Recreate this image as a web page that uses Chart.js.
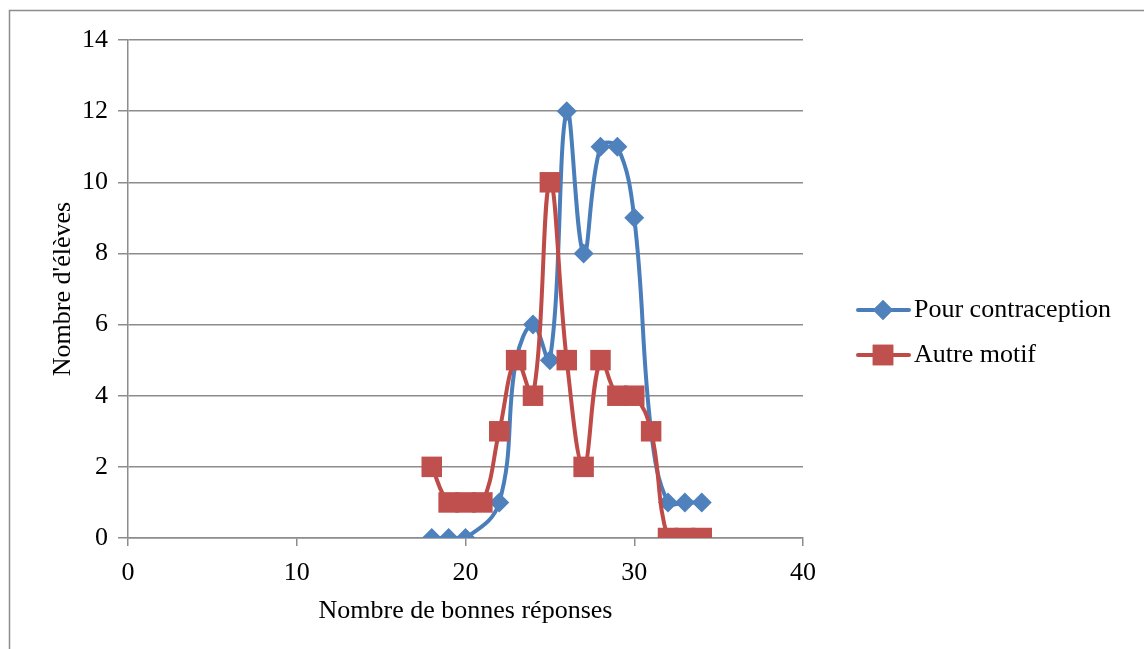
<!DOCTYPE html>
<html>
<head>
<meta charset="utf-8">
<script src="https://cdn.jsdelivr.net/npm/chart.js@4/dist/chart.umd.min.js"></script>
<style>
  html, body { margin: 0; padding: 0; background: #fff; }
  #wrap { position: relative; width: 1144px; height: 649px; }
</style>
</head>
<body>
<div id="wrap"><canvas id="lineChart" width="1144" height="649"></canvas></div>
<script>
// data
var pourX = [18, 19, 20, 22, 23, 24, 25, 26, 27, 28, 29, 30, 31, 32, 33, 34];
var pourY = [0, 0, 0, 1, 5, 6, 5, 12, 8, 11, 11, 9, 3, 1, 1, 1];
var autreX = [18, 19, 20, 21, 22, 23, 24, 25, 26, 27, 28, 29, 30, 31, 32, 33, 34];
var autreY = [2, 1, 1, 1, 3, 5, 4, 10, 5, 2, 5, 4, 4, 3, 0, 0, 0];
var seriesNames = ['Pour contraception', 'Autre motif'];

var blue = '#4a7ebb', blueMark = '#4f81bd';
var red = '#be4b48', redMark = '#c0504d';
var gridCol = '#8c8c8c';
var font = 'Liberation Serif';
var fsize = 26;

function toPoints(xs, ys) {
  return xs.map(function (x, i) { return { x: x, y: ys[i] } })
}

// frame + legend drawn by hand (Excel style)
var extras = {
  id: 'extras',
  afterDraw: function (chart) {
    var ctx = chart.ctx
    ctx.save()
    ctx.strokeStyle = '#8c8c8c'
    ctx.lineWidth = 1.5
    ctx.strokeRect(9.5, 10.5, 1140, 650)

    var items = [
      { name: seriesNames[0], line: blue, mark: blueMark, style: 'rectRot', r: 10, y: 310 },
      { name: seriesNames[1], line: red, mark: redMark, style: 'rect', r: 14.5, y: 355 }
    ]
    items.forEach(function (it) {
      ctx.strokeStyle = it.line
      ctx.lineWidth = 4
      ctx.lineCap = 'round'
      ctx.beginPath()
      ctx.moveTo(858, it.y)
      ctx.lineTo(909, it.y)
      ctx.stroke()
      ctx.fillStyle = it.mark
      Chart.helpers.drawPoint(ctx, { pointStyle: it.style, radius: it.r, borderWidth: 0 }, 883, it.y)
      ctx.fill()
      ctx.fillStyle = '#000'
      ctx.font = fsize + 'px "' + font + '"'
      ctx.textBaseline = 'middle'
      ctx.textAlign = 'left'
      ctx.fillText(it.name, 914, it.y)
    })
    ctx.restore()
  }
}

var ctx = document.getElementById('lineChart').getContext('2d')
new Chart(ctx, {
  type: 'scatter',
  data: {
    datasets: [
      {
        label: seriesNames[0],
        data: toPoints(pourX, pourY),
        showLine: true,
        tension: 0.4,
        borderColor: blue,
        borderWidth: 4,
        backgroundColor: blueMark,
        pointStyle: 'rectRot',
        pointRadius: 10,
        pointBorderWidth: 0,
        order: 2
      },
      {
        label: seriesNames[1],
        data: toPoints(autreX, autreY),
        showLine: true,
        tension: 0.4,
        borderColor: red,
        borderWidth: 4,
        backgroundColor: redMark,
        pointStyle: 'rect',
        pointRadius: 14.5,
        pointBorderWidth: 0,
        order: 1
      }
    ]
  },
  options: {
    responsive: false,
    animation: false,
    layout: { padding: { left: 0, right: 341, top: 40, bottom: 0 } },
    plugins: { legend: { display: false }, tooltip: { enabled: false } },
    scales: {
      x: {
        type: 'linear',
        min: 0, max: 40,
        ticks: { stepSize: 10, color: '#000', font: { family: font, size: fsize }, padding: 12 },
        grid: { drawOnChartArea: false, drawTicks: true, tickLength: 8, color: gridCol, lineWidth: 1.5 },
        border: { color: gridCol, width: 1.5 },
        title: { display: true, text: 'Nombre de bonnes réponses', color: '#000', font: { family: font, size: fsize }, padding: { top: 4, bottom: 22 } },
        afterFit: function (s) { s.height = 111 }
      },
      y: {
        min: 0, max: 14,
        ticks: { stepSize: 2, color: '#000', font: { family: font, size: fsize }, padding: 10 },
        grid: { color: gridCol, lineWidth: 1.5, tickLength: 10 },
        border: { color: gridCol, width: 1.5 },
        title: { display: true, text: "Nombre d'élèves", color: '#000', font: { family: font, size: fsize }, padding: { top: 48 } },
        afterFit: function (s) { s.width = 128 }
      }
    }
  },
  plugins: [extras]
})
</script>
</body>
</html>
